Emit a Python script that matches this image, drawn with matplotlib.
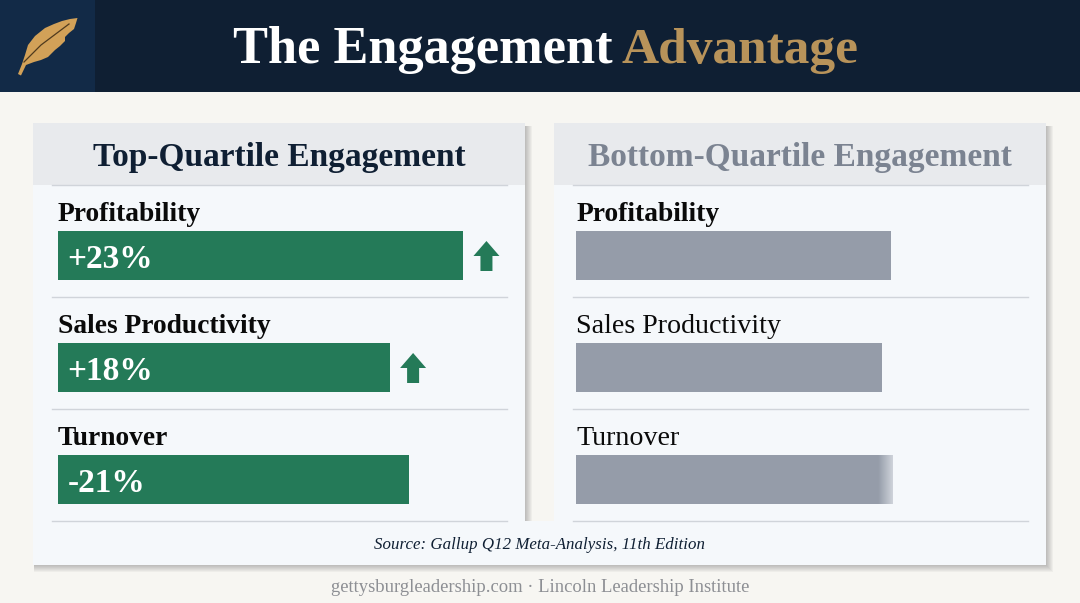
import numpy as np
import matplotlib
matplotlib.use("Agg")
import matplotlib.pyplot as plt
from matplotlib.patches import Rectangle, Polygon
from matplotlib.colors import LinearSegmentedColormap

# === Data ===
metrics = ["Profitability", "Sales Productivity", "Turnover"]
top_labels = ["+23%", "+18%", "-21%"]
top_lengths = [90.1, 73.8, 77.9]      # share of the row width
bottom_lengths = [70.0, 68.0, 70.4]
top_arrows = [True, True, False]
top_bold = [True, True, True]
bottom_bold = [True, False, False]

NAVY = "#0f1f33"
GOLD = "#b8935a"
GREEN = "#247a58"
GRAY = "#959ca9"
PAPER = "#f7f6f2"
CARD = "#f5f8fb"
HEAD = "#e8eaed"
RULE = "#d0d4da"
SERIF = "Liberation Serif"

fig = plt.figure(figsize=(10.8, 6.03), dpi=100, facecolor=PAPER)
ax = fig.add_axes([0, 0, 1, 1])
ax.set_xlim(0, 1080)
ax.set_ylim(603, 0)
ax.axis("off")


def add_box(x0, y0, x1, y1, **kw):
    ax.add_patch(Rectangle((x0, y0), x1 - x0, y1 - y0, linewidth=0, **kw))


# === Header band ===
add_box(0, 0, 1080, 92, facecolor=NAVY, zorder=2)
add_box(0, 0, 95, 92, facecolor="#122a47", zorder=3)
ax.text(233, 63, "The Engagement", color="white", fontsize=37.7, fontweight="bold",
        family=SERIF, zorder=5)
ax.text(622, 63, "Advantage", color=GOLD, fontsize=37, fontweight="bold",
        family=SERIF, zorder=5)

# feather
feather_x = [18, 22, 25, 28, 35, 45, 54, 62, 70, 77.5, 76, 74, 69, 65, 65, 60, 55, 48, 41, 34, 26, 21]
feather_y = [74, 64, 55, 45, 36, 28, 24, 21, 19, 18, 23, 29, 33, 37, 41, 46, 50, 57, 60, 62, 65, 75.5]
ax.add_patch(Polygon(list(zip(feather_x, feather_y)), facecolor="#d2a158", edgecolor="none", zorder=4))
ax.plot([24, 41, 69], [62, 45, 24], color="#4f3a1e", lw=0.9, zorder=5)

# === Panels ===
panels = [
    (33, 525, "Top-Quartile Engagement", NAVY),
    (554, 1046, "Bottom-Quartile Engagement", "#7b8391"),
]

# soft shadow on the right and below, one outline per step
for k in range(1, 8):
    ax.add_patch(Polygon(
        [(34, 126), (525 + k, 126), (525 + k, 521), (555, 521), (555, 126), (1046 + k, 126),
         (1046 + k, 565 + k), (34, 565 + k)],
        facecolor="#303030", edgecolor="none", alpha=0.045, zorder=1))

add_box(33, 521, 1046, 565, facecolor=CARD, zorder=3)

row_tops = [185, 297, 409]
row_h = 112

for (x0, x1, head, head_color) in panels:
    add_box(x0, 123, x1, 521, facecolor=CARD, zorder=2)
    add_box(x0, 123, x1, 185, facecolor=HEAD, zorder=2.5)
    ax.text((x0 + x1) / 2, 166, head, color=head_color, fontsize=24, fontweight="bold",
            ha="center", family=SERIF, zorder=5)
    for y in row_tops + [row_tops[-1] + row_h]:
        ax.plot([x0 + 19, x1 - 18], [y, y], color=RULE, lw=1.0, zorder=4)

# === Bars, one small axes per panel ===
def bar_axes(x0):
    bax = fig.add_axes([x0 / 1080, 1 - 535.5 / 603, 450 / 1080, 336 / 603], zorder=6)
    bax.set_xlim(0, 100)
    bax.set_ylim(2.5, -0.5)  # rows run downwards
    bax.axis("off")
    return bax


left = bar_axes(58)
right = bar_axes(576)
ys = np.arange(3)
left.barh(ys, top_lengths, height=49 / 112, color=GREEN, linewidth=0)
right.barh(ys, bottom_lengths, height=49 / 112, color=GRAY, linewidth=0)

# last gray bar fades out at its right end
fade = LinearSegmentedColormap.from_list("fade", [GRAY, CARD])
bar_end = bottom_lengths[2]
right.imshow(np.linspace(0, 0.6, 40).reshape(1, -1), cmap=fade, vmin=0, vmax=1, aspect="auto",
             extent=(bar_end - 3.2, bar_end, 2 + 49 / 224, 2 - 49 / 224), zorder=3)
right.set_xlim(0, 100)
right.set_ylim(2.5, -0.5)

for i, name in enumerate(metrics):
    base = row_tops[i] + 36
    ax.text(58, base, name, color="#0a0a0a", fontsize=19.8, fontweight="bold" if top_bold[i] else "normal",
            family=SERIF, zorder=5)
    ax.text(576.5, base, name, color="#0a0a0a",
            fontsize=19.8 if bottom_bold[i] else 20.2,
            fontweight="bold" if bottom_bold[i] else "normal",
            family=SERIF, zorder=5)
    left.text(2.1, i + 0.035, top_labels[i], color="white", fontsize=24, fontweight="bold", va="center",
              family=SERIF)
    if top_arrows[i]:
        # small up arrow just past the bar end
        tip = 58 + top_lengths[i] * 4.5 + 23
        mid = row_tops[i] + 71
        ax.add_patch(Polygon(
            [(tip, mid - 15), (tip + 13, mid), (tip + 6, mid), (tip + 6, mid + 15),
             (tip - 6, mid + 15), (tip - 6, mid), (tip - 13, mid)],
            facecolor=GREEN, edgecolor="none", zorder=5))

# === Footer ===
ax.text(540, 545, "Source: Gallup Q12 Meta-Analysis, 11th Edition", color=NAVY, fontsize=12.2,
        style="italic", ha="center", va="center", family=SERIF, zorder=5)
ax.text(540, 588, "gettysburgleadership.com · Lincoln Leadership Institute", color="#8d8f94", fontsize=13.4,
        ha="center", va="center", family=SERIF, zorder=5)

fig.savefig("out.png", dpi=100, facecolor=PAPER)
